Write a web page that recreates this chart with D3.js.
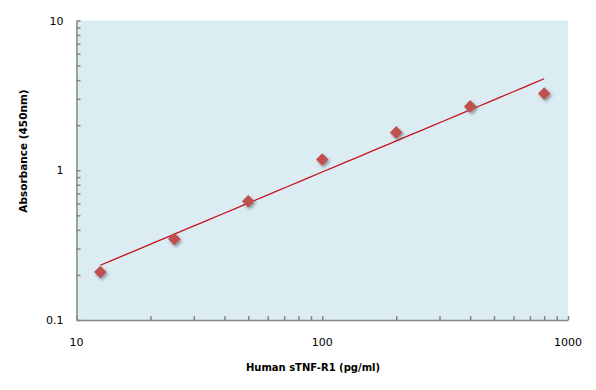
<!DOCTYPE html>
<html>
<head>
<meta charset="utf-8">
<script src="https://cdn.jsdelivr.net/npm/d3@7"></script>
<style>
  body { margin: 0; background: #fff; }
  text { font-family: "DejaVu Sans", Verdana, sans-serif; }
</style>
</head>
<body>
<svg id="chart"></svg>
<script>
// concentration (pg/ml) and absorbance at 450nm
const concentrations = [12.5, 25, 50, 100, 200, 400, 800];
const absorbance = [0.209, 0.347, 0.62, 1.18, 1.79, 2.67, 3.26];
const xTickValues = [10, 100, 1000];
const yTickValues = [0.1, 1, 10];

const width = 596, height = 390;
const margin = {top: 20.5, right: 28, bottom: 70, left: 76.5};

const svg = d3.select("#chart")
    .attr("width", width)
    .attr("height", height);

const xScale = d3.scaleLog()
    .domain([10, 1000])
    .range([margin.left, width - margin.right]);

const yScale = d3.scaleLog()
    .domain([0.1, 10])
    .range([height - margin.bottom, margin.top]);

// drop shadow for markers
const defs = svg.append("defs");
const filter = defs.append("filter")
    .attr("id", "shadow")
    .attr("x", "-50%").attr("y", "-50%")
    .attr("width", "200%").attr("height", "200%");
filter.append("feDropShadow")
    .attr("dx", 1.5).attr("dy", 2)
    .attr("stdDeviation", 1.5)
    .attr("flood-color", "#2a3a50")
    .attr("flood-opacity", 0.5);

// plot background
svg.append("rect")
    .attr("x", xScale(10))
    .attr("y", yScale(10))
    .attr("width", xScale(1000) - xScale(10))
    .attr("height", yScale(0.1) - yScale(10))
    .attr("fill", "#dbedf3");

// minor/major ticks, drawn inward like the original
const xMinor = [];
const yMinor = [];
for (let d = 10; d <= 1000; d *= 10) {
    for (let k = 1; k < 10; k++) if (d * k <= 1000) xMinor.push(d * k);
}
for (let d = 0.1; d <= 10; d *= 10) {
    for (let k = 1; k < 10; k++) if (d * k <= 10.0001) yMinor.push(d * k);
}

const xAxis = d3.axisBottom(xScale)
    .tickValues(xMinor)
    .tickSizeInner(-4)
    .tickSizeOuter(0)
    .tickFormat("");

const yAxis = d3.axisLeft(yScale)
    .tickValues(yMinor)
    .tickSizeInner(-4)
    .tickSizeOuter(0)
    .tickFormat("");

const gx = svg.append("g")
    .attr("transform", `translate(0,${yScale(0.1)})`)
    .call(xAxis);

const gy = svg.append("g")
    .attr("transform", `translate(${xScale(10)},0)`)
    .call(yAxis);

[gx, gy].forEach(g => {
    g.selectAll("path, line")
        .attr("stroke", "#868686")
        .attr("stroke-width", 1.5);
});

// tick labels
svg.append("g").selectAll("text")
    .data(xTickValues)
    .enter().append("text")
    .attr("x", d => xScale(d))
    .attr("y", yScale(0.1) + 26)
    .attr("text-anchor", "middle")
    .attr("font-size", "11px")
    .attr("fill", "#000")
    .text(d => d);

svg.append("g").selectAll("text")
    .data(yTickValues)
    .enter().append("text")
    .attr("x", margin.left - 13)
    .attr("y", d => yScale(d) + 4)
    .attr("text-anchor", "end")
    .attr("font-size", "11px")
    .attr("fill", "#000")
    .text(d => d);

// power trendline from log-log least squares
const lx = concentrations.map(Math.log10);
const ly = absorbance.map(Math.log10);
const mx = d3.mean(lx), my = d3.mean(ly);
const slope = d3.sum(lx, (v, i) => (v - mx) * (ly[i] - my)) / d3.sum(lx, v => (v - mx) ** 2);
const intercept = my - slope * mx;
const [xMin, xMax] = d3.extent(concentrations);
const xs = d3.range(0, 41).map(i => Math.pow(10, Math.log10(xMin) + i * (Math.log10(xMax) - Math.log10(xMin)) / 40));

const line = d3.line()
    .x(d => xScale(d))
    .y(d => yScale(Math.pow(10, intercept + slope * Math.log10(d))));

svg.append("path")
    .datum(xs)
    .attr("d", line)
    .attr("fill", "none")
    .attr("stroke", "#c8141e")
    .attr("stroke-width", 1.3);

// markers
const diamond = d3.symbol().type(d3.symbolDiamond2).size(100);
svg.append("g").selectAll("path")
    .data(concentrations)
    .enter().append("path")
    .attr("d", diamond)
    .attr("transform", (d, i) => `translate(${xScale(d)},${yScale(absorbance[i])})`)
    .attr("fill", "#c0504d")
    .attr("filter", "url(#shadow)");

// axis titles
svg.append("text")
    .attr("x", 313)
    .attr("y", 371)
    .attr("text-anchor", "middle")
    .attr("font-size", "10px")
    .attr("font-weight", "bold")
    .text("Human sTNF-R1 (pg/ml)");

svg.append("text")
    .attr("transform", "translate(27,151) rotate(-90)")
    .attr("text-anchor", "middle")
    .attr("font-size", "10.5px")
    .attr("font-weight", "bold")
    .text("Absorbance (450nm)");
</script>
</body>
</html>
